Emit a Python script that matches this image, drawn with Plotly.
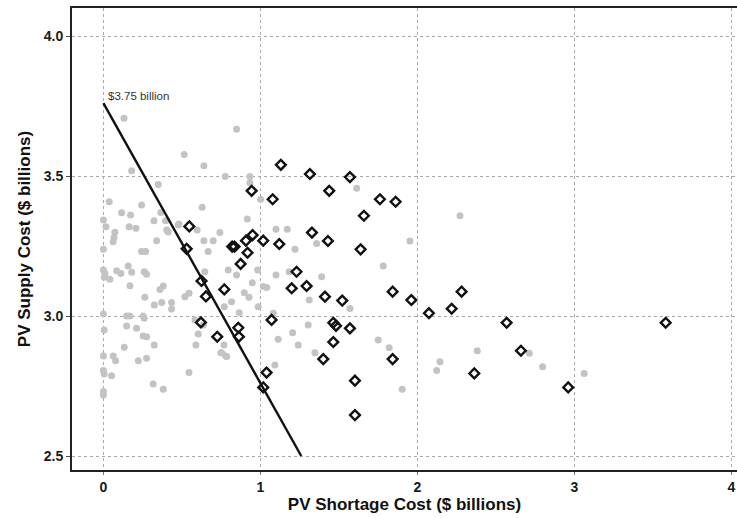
import plotly.graph_objects as go

# Gray circles: (PV shortage cost, PV supply cost), $ billions
gray_x = [0.131, 0.848, 0.515, 0.640, 0.18, 0.776, 0.933, 0.933, 0.349, 1.001,
          1.613, 0.037, 0.243, 0.629, 0.116, 0.173, 0.366, 0.0, 0.016, 0.322,
          0.396, 0.164, 0.207, 0.403, 0.481, 0.916, 0.597, 0.742, 0.073, 0.067,
          1.099, 1.171, 0.339, 0.64, 0.699, 1.358, 0.0, 0.243, 0.269, 0.667,
          1.22, 0.413, 0.477, 0.062, 0.0, 0.01, 0.005, 0.041, 0.084, 0.111,
          0.158, 0.18, 0.26, 0.275, 0.169, 0.36, 0.381, 0.264, 0.324, 0.371,
          0.434, 0.434, 0.519, 0.545, 0.646, 0.795, 0.848, 0.948, 0.982, 0.816,
          0.897, 0.927, 0.986, 1.04, 0.865, 0.77, 0.0, 0.148, 0.169, 0.253,
          0.26, 0.583, 0.005, 0.148, 0.211, 0.253, 0.275, 0.324, 0.604, 0.589,
          0.636, 0.748, 0.780, 0.0, 0.062, 0.078, 0.133, 0.222, 0.275, 0.0,
          0.005, 0.052, 0.545, 0.317, 0.381, 0.0, 0.0, 1.092, 1.113, 1.205,
          1.241, 1.347, 1.304, 1.311, 1.39, 1.57, 1.082, 1.018, 1.099, 1.183,
          0.768, 0.753, 0.785, 1.952, 1.782, 1.75, 1.82, 1.903, 2.122, 2.143,
          2.381, 2.712, 2.797, 3.062, 2.271]
gray_y = [3.706, 3.667, 3.577, 3.537, 3.519, 3.498, 3.498, 3.476, 3.47, 3.417,
          3.456, 3.408, 3.396, 3.388, 3.369, 3.361, 3.370, 3.343, 3.319, 3.340,
          3.340, 3.319, 3.313, 3.307, 3.329, 3.346, 3.307, 3.298, 3.299, 3.28,
          3.31, 3.31, 3.269, 3.269, 3.269, 3.259, 3.238, 3.23, 3.23, 3.23,
          3.238, 3.30, 3.325, 3.265, 3.164, 3.152, 3.138, 3.131, 3.162, 3.152,
          3.179, 3.156, 3.158, 3.149, 3.108, 3.095, 3.107, 3.067, 3.039, 3.048,
          3.048, 3.025, 3.069, 3.081, 3.158, 3.164, 3.146, 3.119, 3.164, 3.051,
          3.083, 3.067, 3.033, 3.102, 3.012, 3.033, 3.007, 3.0, 3.0, 3.0,
          2.992, 2.986, 2.95, 2.964, 2.956, 2.929, 2.926, 2.896, 2.936, 2.896,
          2.968, 2.869, 2.857, 2.857, 2.857, 2.84, 2.888, 2.84, 2.849, 2.805,
          2.793, 2.787, 2.798, 2.757, 2.738, 2.73, 2.718, 2.825, 2.917, 2.94,
          2.896, 2.869, 2.968, 3.057, 3.14, 3.027, 3.01, 3.105, 3.146, 3.158,
          2.896, 2.869, 2.855, 3.268, 3.179, 2.914, 2.887, 2.738, 2.805, 2.837,
          2.876, 2.867, 2.819, 2.795, 3.358]

# Open diamonds
dia_x = [0.53, 0.547, 0.625, 0.653, 0.77, 0.621, 0.725, 0.859, 0.863, 0.82,
         0.835, 0.874, 0.918, 0.908, 0.95, 0.944, 1.018, 1.078, 1.12, 1.13,
         1.315, 1.57, 1.438, 1.761, 1.861, 1.659, 1.328, 1.43, 1.638, 1.23,
         1.199, 1.294, 1.411, 1.521, 1.842, 1.961, 2.073, 1.071, 1.464, 1.481,
         1.57, 1.464, 1.40, 1.842, 1.039, 1.018, 1.602, 1.602, 2.218, 2.281,
         2.568, 2.659, 2.362, 2.96, 3.581]
dia_y = [3.24, 3.32, 3.125, 3.07, 3.095, 2.977, 2.926, 2.958, 2.926, 3.248,
         3.248, 3.186, 3.226, 3.269, 3.289, 3.447, 3.269, 3.417, 3.257, 3.54,
         3.507, 3.496, 3.447, 3.417, 3.408, 3.358, 3.298, 3.268, 3.238, 3.158,
         3.099, 3.107, 3.069, 3.055, 3.087, 3.057, 3.01, 2.986, 2.976, 2.965,
         2.956, 2.907, 2.846, 2.846, 2.798, 2.745, 2.769, 2.646, 3.026, 3.087,
         2.976, 2.876, 2.795, 2.745, 2.976]

# Iso-cost line
line_x = [0.0, 1.26]
line_y = [3.76, 2.5]
line_label = "$3.75 billion"

x_ticks = [0, 1, 2, 3, 4]
x_tick_text = ["0", "1", "2", "3", "4"]
y_ticks = [2.5, 3.0, 3.5, 4.0]
y_tick_text = ["2.5", "3.0", "3.5", "4.0"]

fig = go.Figure()
fig.add_trace(go.Scatter(x=gray_x, y=gray_y, mode="markers",
                         marker=dict(color="#c3c3c3", size=7, line=dict(width=0)),
                         showlegend=False, hoverinfo="skip"))
fig.add_trace(go.Scatter(x=line_x, y=line_y, mode="lines",
                         line=dict(color="#111111", width=2.4),
                         showlegend=False, hoverinfo="skip"))
fig.add_trace(go.Scatter(x=dia_x, y=dia_y, mode="markers",
                         marker=dict(symbol="diamond-open", color="#111111", size=7.5,
                                     line=dict(width=2.4, color="#111111")),
                         showlegend=False, hoverinfo="skip"))

fig.add_annotation(x=line_x[0], y=line_y[0], text=line_label, showarrow=False,
                   xanchor="left", yanchor="bottom", xshift=3, yshift=-1,
                   font=dict(family="Liberation Sans, Arial", size=11.5, color="#333333"))

axis_font = dict(family="Liberation Sans, Arial", size=14, color="#1a1a1a")
title_font = dict(family="Liberation Sans, Arial", size=17, color="#111111")

fig.update_layout(
    width=737, height=518,
    margin=dict(l=72, r=0, t=8, b=48),
    paper_bgcolor="white", plot_bgcolor="white",
    xaxis=dict(range=[-0.2, 4.035], tickvals=x_ticks,
               ticktext=["<b>%s</b>" % t for t in x_tick_text],
               showgrid=True, gridcolor="#a8a8a8", griddash="dot", gridwidth=1,
               zeroline=False, showline=True, linecolor="#222222", linewidth=2,
               mirror=True, ticks="outside", ticklen=3, tickcolor="#777777",
               tickfont=axis_font,
               title=dict(text="<b>PV Shortage Cost ($ billions)</b>", font=title_font,
                          standoff=2)),
    yaxis=dict(range=[2.45, 4.1], tickvals=y_ticks,
               ticktext=["<b>%s</b>" % t for t in y_tick_text],
               showgrid=True, gridcolor="#a8a8a8", griddash="dot", gridwidth=1,
               zeroline=False, showline=True, linecolor="#222222", linewidth=2,
               mirror=False,
               ticks="outside", ticklen=4, tickcolor="#555555", tickfont=axis_font,
               title=dict(text="<b>PV Supply Cost ($ billions)</b>", font=title_font,
                          standoff=9)),
)

fig.write_html("out.html", config={"displayModeBar": False},
               post_script="document.body.style.margin='0px';document.body.style.overflow='hidden';")
